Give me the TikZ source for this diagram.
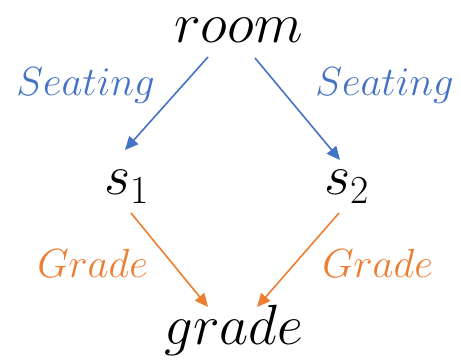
\RequirePackage{fix-cm}
\documentclass[tikz,border=0pt]{standalone}
\usetikzlibrary{arrows.meta,calc}
\definecolor{seatblue}{RGB}{68,114,196}
\definecolor{gradeorange}{RGB}{237,125,49}
\tikzset{
  var/.style={anchor=base,inner sep=0pt,font=\fontsize{42.5}{50}\selectfont},
  lbl/.style={anchor=base west,inner sep=0pt,font=\fontsize{30.5}{36}\selectfont},
  arr/.style={line width=1.2pt,-{Triangle[length=10pt,width=9pt]}}
}
\begin{document}
\begin{tikzpicture}[x=0.75pt,y=-0.75pt]
\useasboundingbox (0,0) rectangle (461,363);
   \node[var] at (238.5,43) (room) {$room$};
   \node[var] at (126.5,195) (s1) {$s_1$};
   \node[var] at (346.5,195) (s2) {$s_2$};
   \node[var] at (234,345) (grade) {$grade$};

   % edge labels
   \node[lbl,text=seatblue] at (16,96) (seat1) {$Seating$};
   \node[lbl,text=seatblue] at (315,96) (seat2) {$Seating$};
   \node[lbl,text=gradeorange] at (37,278) (grd1) {$Grade$};
   \node[lbl,text=gradeorange] at (322,278) (grd2) {$Grade$};

   \draw[arr,seatblue] ($(room.base)+(-30.5,14)$) -- ($(s1.base)+(-1.5,-45)$);
   \draw[arr,seatblue] ($(room.base)+(16.5,15)$) -- ($(s2.base)+(-6.5,-35)$);

   \draw[arr,gradeorange] ($(s1.base)+(4.5,18)$) -- ($(grade.base)+(-26,-38)$);
   \draw[arr,gradeorange] ($(s2.base)+(-7.5,18)$) -- ($(grade.base)+(23,-38)$);
\end{tikzpicture}
\end{document}
